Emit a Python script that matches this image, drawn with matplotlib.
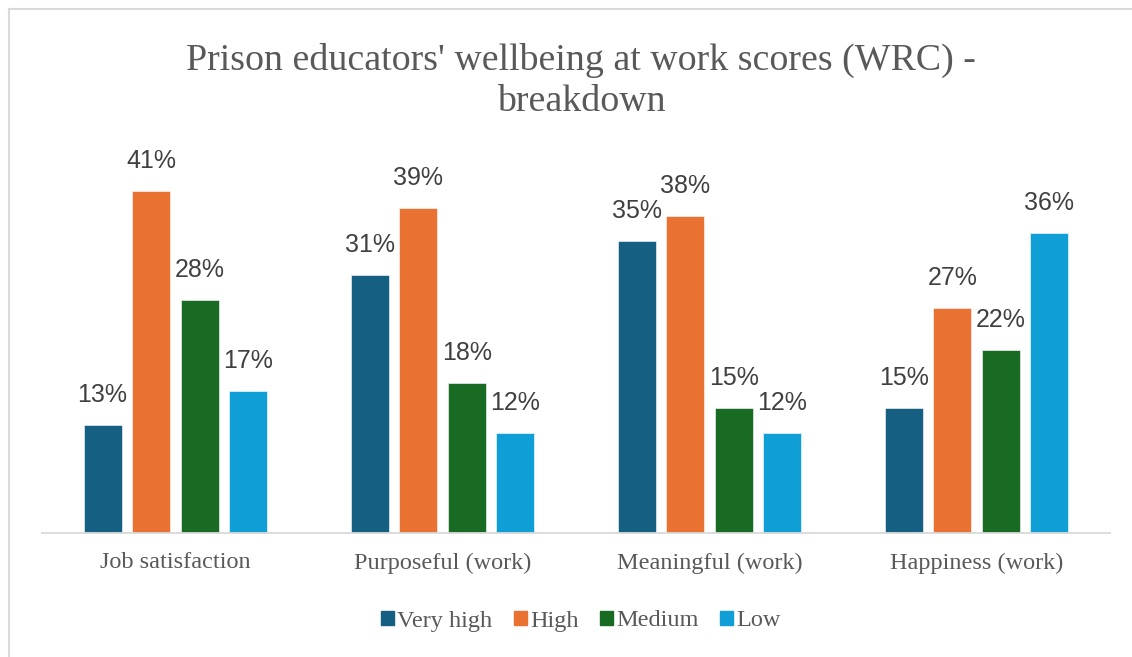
import numpy as np
import matplotlib.pyplot as plt
from matplotlib.lines import Line2D

categories = ['Job satisfaction', 'Purposeful (work)', 'Meaningful (work)', 'Happiness (work)']
series = ['Very high', 'High', 'Medium', 'Low']
very_high = [13, 31, 35, 15]
high = [41, 39, 38, 27]
medium = [28, 18, 15, 22]
low = [17, 12, 12, 36]
colors = ['#156082', '#E97132', '#196B24', '#0F9ED5']

W, H = 1132, 657
fig = plt.figure(figsize=(W / 100, H / 100), dpi=100)
ax = fig.add_axes([42 / W, (H - 533) / H, (1110 - 42) / W, (533 - 158) / H])

x = np.arange(len(categories))
bw = 0.142
step = 0.182
values = [very_high, high, medium, low]
for k, (name, vals) in enumerate(zip(series, values)):
    pos = x + (k - 1.5) * step
    bars = ax.bar(pos, vals, bw, color=colors[k], label=name, edgecolor='white', linewidth=0.4)
    for b, v in zip(bars, vals):
        ax.annotate('%d%%' % v, (b.get_x() + b.get_width() / 2, v), xytext=(0, 13),
                    textcoords='offset points', ha='center', va='bottom',
                    fontsize=18, color='#404040', family='Liberation Sans')

ax.set_xlim(-0.5, 3.5)
ax.set_ylim(0, 45)
ax.set_yticks([])
ax.set_xticks(x)
ax.set_xticklabels(categories, family='Liberation Serif', fontsize=17.5, color='#595959')
ax.tick_params(axis='x', length=0, pad=14)
for s in ['top', 'right', 'left']:
    ax.spines[s].set_visible(False)
ax.spines['bottom'].set_color('#D9D9D9')
ax.spines['bottom'].set_linewidth(1.3)

fig.text(581 / W, 1 - 81 / H, "Prison educators' wellbeing at work scores (WRC) -\nbreakdown",
         ha='center', va='center', family='Liberation Serif', fontsize=27.3, color='#595959',
         linespacing=1.22)

handles = [plt.Rectangle((0, 0), 1, 1, color=c) for c in colors]
fig.legend(handles, series, loc='center', bbox_to_anchor=(581 / W, 1 - 621 / H), ncol=4,
           frameon=False, prop={'family': 'Liberation Serif', 'size': 17.5},
           labelcolor='#595959', handlelength=0.52, handleheight=0.52, handletextpad=0.15,
           columnspacing=0.88)

# chart border (left and top visible)
fig.add_artist(Line2D([9 / W, 9 / W], [0, 1 - 9 / H], transform=fig.transFigure, color='#D9D9D9', lw=1.5))
fig.add_artist(Line2D([9 / W, 1], [1 - 9 / H, 1 - 9 / H], transform=fig.transFigure, color='#D9D9D9', lw=1.5))

fig.savefig('out.png', dpi=100)
